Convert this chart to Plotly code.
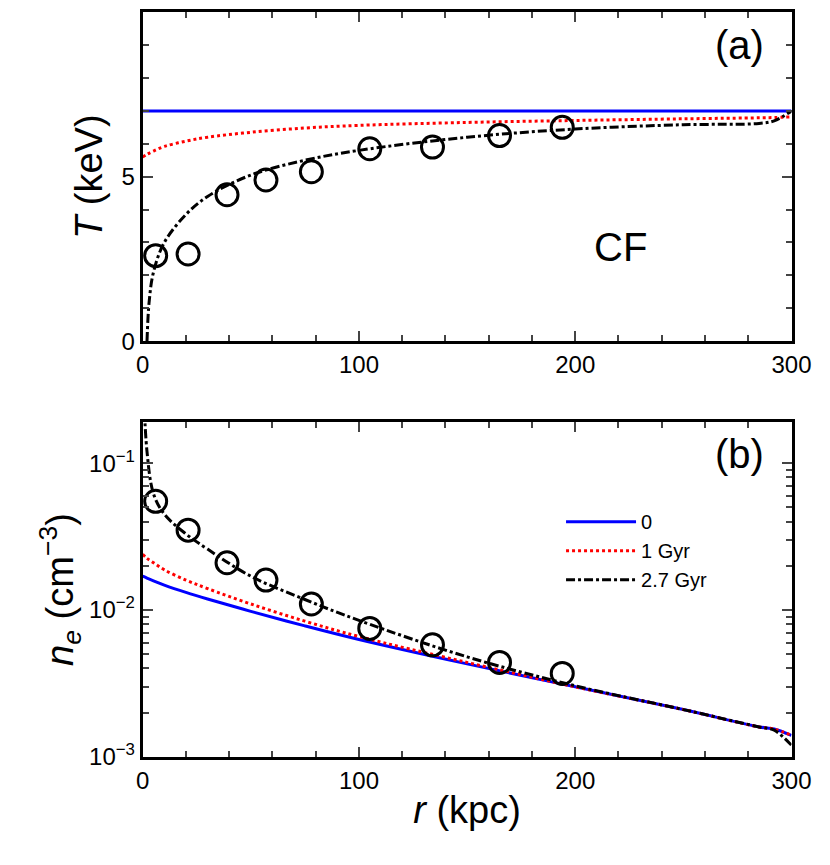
import plotly.graph_objects as go

# panel (a): temperature
r_line = [0, 2, 5, 10, 20, 30, 50, 75, 100, 150, 200, 250, 285, 292, 300]
T_init = [7.0] * len(r_line)
T_1gyr = [5.6, 5.68, 5.78, 5.92, 6.08, 6.2, 6.35, 6.48, 6.56, 6.65, 6.71, 6.76, 6.79, 6.8, 6.82]
r_cf = [2, 3, 5, 10, 20, 30, 50, 75, 100, 150, 200, 250, 285, 292, 300]
T_cf = [0.0, 1.2, 2.1, 3.0, 3.85, 4.4, 5.05, 5.5, 5.8, 6.2, 6.45, 6.58, 6.62, 6.7, 7.0]
r_obs = [6, 21, 39, 57, 78, 105, 134, 165, 194]
T_obs = [2.6, 2.65, 4.45, 4.9, 5.15, 5.85, 5.9, 6.25, 6.5]

# panel (b): density
ne_init = [0.017, 0.0165, 0.0158, 0.0148, 0.0132, 0.0119, 0.0098, 0.0078, 0.0063, 0.0043, 0.003, 0.0021, 0.0016, 0.00155, 0.0014]
ne_1gyr = [0.024, 0.0225, 0.021, 0.0188, 0.016, 0.014, 0.011, 0.0084, 0.0066, 0.0044, 0.003, 0.0021, 0.0016, 0.00155, 0.0014]
r_cfn = [0.5, 2, 5, 10, 20, 30, 50, 75, 100, 150, 200, 250, 285, 292, 300]
ne_cf = [0.3, 0.12, 0.062, 0.045, 0.033, 0.026, 0.017, 0.0118, 0.0085, 0.0048, 0.00305, 0.0021, 0.0016, 0.00152, 0.0012]
ne_obs = [0.055, 0.035, 0.021, 0.016, 0.011, 0.0075, 0.0058, 0.0044, 0.0037]

FONT = "Liberation Sans, Arial, sans-serif"
fig = go.Figure()

fig.add_trace(go.Scatter(x=r_line, y=T_init, mode="lines", line=dict(color="#0000ff", width=3), showlegend=False))
fig.add_trace(go.Scatter(x=r_line, y=T_1gyr, mode="lines", line=dict(color="#ff0000", width=3, dash="dot", shape="spline"), showlegend=False))
fig.add_trace(go.Scatter(x=r_cf, y=T_cf, mode="lines", line=dict(color="black", width=3, dash="dashdot", shape="spline"), showlegend=False))
fig.add_trace(go.Scatter(x=r_obs, y=T_obs, mode="markers", marker=dict(symbol="circle-open", size=22, color="black", line=dict(width=3)), showlegend=False))

fig.add_trace(go.Scatter(x=r_line, y=ne_init, mode="lines", name="0", line=dict(color="#0000ff", width=3, shape="spline"), xaxis="x2", yaxis="y2"))
fig.add_trace(go.Scatter(x=r_line, y=ne_1gyr, mode="lines", name="1 Gyr", line=dict(color="#ff0000", width=3, dash="dot", shape="spline"), xaxis="x2", yaxis="y2"))
fig.add_trace(go.Scatter(x=r_cfn, y=ne_cf, mode="lines", name="2.7 Gyr", line=dict(color="black", width=3, dash="dashdot", shape="spline"), xaxis="x2", yaxis="y2"))
fig.add_trace(go.Scatter(x=r_obs, y=ne_obs, mode="markers", marker=dict(symbol="circle-open", size=22, color="black", line=dict(width=3)), showlegend=False, xaxis="x2", yaxis="y2"))

ax = dict(showline=True, linewidth=3, linecolor="black", mirror="allticks", ticks="inside",
          ticklen=10, tickwidth=2, showgrid=False, zeroline=False,
          tickfont=dict(size=24, family=FONT, color="black"))
title_font = dict(size=38, family=FONT, color="black")

fig.update_layout(
    width=830, height=865, margin=dict(l=0, r=0, t=0, b=0),
    plot_bgcolor="white", paper_bgcolor="white",
    xaxis=dict(ax, domain=[0.159, 0.967], range=[0, 300], tickvals=[0, 100, 200, 300], anchor="y",
               minor=dict(dtick=20, ticks="inside", ticklen=6, tickwidth=2)),
    yaxis=dict(ax, domain=[0.609, 0.995], range=[0, 10], tickvals=[0, 5, 10], anchor="x",
               minor=dict(dtick=1, ticks="inside", ticklen=6, tickwidth=2),
               title=dict(text="<i>T</i> (keV)", font=title_font, standoff=8)),
    xaxis2=dict(ax, domain=[0.159, 0.967], range=[0, 300], tickvals=[0, 100, 200, 300], anchor="y2",
                minor=dict(dtick=20, ticks="inside", ticklen=6, tickwidth=2),
                title=dict(text="<i>r</i> (kpc)", font=title_font, standoff=4)),
    yaxis2=dict(ax, domain=[0.121, 0.514], type="log", range=[-3, -0.72], anchor="x2",
                tickvals=[0.001, 0.01, 0.1], ticktext=["10<sup>−3</sup>", "10<sup>−2</sup>", "10<sup>−1</sup>"],
                minor=dict(ticks="inside", ticklen=6, tickwidth=2, tickvals=[0.002,0.003,0.004,0.005,0.006,0.007,0.008,0.009,0.02,0.03,0.04,0.05,0.06,0.07,0.08,0.09,0.2]),
                title=dict(text="<i>n<sub>e</sub></i> (cm<sup>−3</sup>)", font=title_font, standoff=4)),
    legend=dict(x=0.68, y=0.42, xanchor="left", yanchor="top", bgcolor="rgba(0,0,0,0)",
                font=dict(size=20, family=FONT, color="black"), itemwidth=70, tracegroupgap=0),
    annotations=[
        dict(text="(a)", x=0.935, y=0.985, xref="paper", yref="paper", xanchor="right", yanchor="top",
             showarrow=False, font=dict(size=40, family=FONT, color="black")),
        dict(text="CF", x=0.79, y=0.72, xref="paper", yref="paper", xanchor="right", yanchor="middle",
             showarrow=False, font=dict(size=40, family=FONT, color="black")),
        dict(text="(b)", x=0.935, y=0.505, xref="paper", yref="paper", xanchor="right", yanchor="top",
             showarrow=False, font=dict(size=40, family=FONT, color="black")),
    ],
)

fig.write_html("out.html")
